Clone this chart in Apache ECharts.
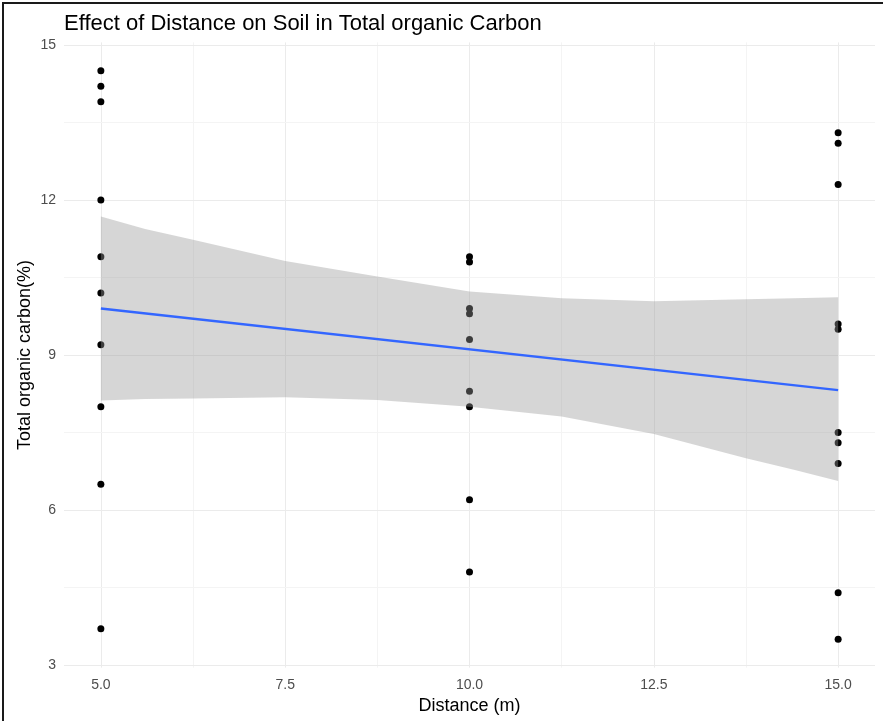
<!DOCTYPE html>
<html>
<head>
<meta charset="utf-8">
<title>Effect of Distance on Soil in Total organic Carbon</title>
<script src="https://cdn.jsdelivr.net/npm/echarts@6/dist/echarts.min.js"></script>
<style>
    html, body {margin: 0; padding: 0; background: #fff;}
    #main {position: absolute; left: 0; top: 0; width: 883px; height: 721px;}
    #frame {position: absolute; left: 2px; top: 2px; right: 0; bottom: 0;
        border-left: 2px solid #1a1a1a; border-top: 2px solid #1a1a1a; pointer-events: none;}
</style>
</head>
<body>
<div id="main"></div>
<div id="frame"></div>
<script>
    // 观测值 (Distance m -> Total organic carbon %)
    var distances = [5, 10, 15];
    var carbonAt5 = [14.5, 14.2, 13.9, 12.0, 10.9, 10.2, 9.2, 8.0, 6.5, 3.7];
    var carbonAt10 = [10.9, 10.8, 9.9, 9.8, 9.3, 8.3, 8.0, 6.2, 4.8];
    var carbonAt15 = [13.3, 13.1, 12.3, 9.6, 9.5, 7.5, 7.3, 6.9, 4.4, 3.5];

    // 回归线 + 置信带
    var fitX = [5, 15];
    var fitY = [9.90, 8.32];
    var bandX = [5, 5.6, 6.25, 7.5, 8.75, 10, 11.25, 12.5, 13.75, 14.4, 15];
    var bandLower = [8.12, 8.15, 8.16, 8.18, 8.13, 8.00, 7.81, 7.47, 7.00, 6.78, 6.56];
    var bandUpper = [11.68, 11.44, 11.23, 10.82, 10.52, 10.23, 10.10, 10.04, 10.08, 10.10, 10.12];

    // 刻度
    var xTicks = [5, 7.5, 10, 12.5, 15];
    var xMinor = [6.25, 8.75, 11.25, 13.75];
    var yTicks = [3, 6, 9, 12, 15];
    var yMinor = [4.5, 7.5, 10.5, 13.5];

    var points = [];
    [carbonAt5, carbonAt10, carbonAt15].forEach(function (vals, i) {
        vals.forEach(function (v) {
            points.push([distances[i], v]);
        });
    });

    var gridLines = [];
    xTicks.forEach(function (v) { gridLines.push({xAxis: v, lineStyle: {color: '#ebebeb', width: 1}}); });
    xMinor.forEach(function (v) { gridLines.push({xAxis: v, lineStyle: {color: '#f4f4f4', width: 1}}); });
    yTicks.forEach(function (v) { gridLines.push({yAxis: v, lineStyle: {color: '#ebebeb', width: 1}}); });
    yMinor.forEach(function (v) { gridLines.push({yAxis: v, lineStyle: {color: '#f4f4f4', width: 1}}); });

    var font = 'Liberation Sans, Arial, sans-serif';

    var chart = echarts.init(document.getElementById('main'));
    var option = {
        backgroundColor: '#fff',
        animation: false,
        title: {
            text: 'Effect of Distance on Soil in Total organic Carbon',
            left: 59,
            top: 8,
            textStyle: {
                fontFamily: font,
                fontSize: 22,
                fontWeight: 'normal',
                color: '#000'
            }
        },
        grid: {
            left: 64,
            right: 8,
            top: 42.4,
            bottom: 53.4
        },
        xAxis: {
            type: 'value',
            min: 4.5,
            max: 15.5,
            name: 'Distance (m)',
            nameLocation: 'middle',
            nameGap: 27,
            nameTextStyle: {fontFamily: font, fontSize: 18, color: '#000'},
            axisLine: {show: false},
            axisTick: {show: false},
            splitLine: {show: false},
            axisLabel: {
                customValues: xTicks,
                fontFamily: font,
                fontSize: 14,
                color: '#4d4d4d',
                margin: 11,
                formatter: function (v) { return v.toFixed(1); }
            }
        },
        yAxis: {
            type: 'value',
            min: 2.95,
            max: 15.05,
            name: 'Total organic carbon(%)',
            nameLocation: 'middle',
            nameGap: 30,
            nameMoveOverlap: false,
            nameTextStyle: {fontFamily: font, fontSize: 18, color: '#000'},
            axisLine: {show: false},
            axisTick: {show: false},
            splitLine: {show: false},
            axisLabel: {
                customValues: yTicks,
                fontFamily: font,
                fontSize: 14,
                color: '#4d4d4d',
                margin: 8
            }
        },
        series: [
            {
                // 网格线
                name: 'grid',
                type: 'scatter',
                data: [],
                z: 1,
                silent: true,
                markLine: {
                    silent: true,
                    z: 1,
                    symbol: 'none',
                    label: {show: false},
                    lineStyle: {type: 'solid'},
                    data: gridLines
                }
            },
            {
                name: 'points',
                type: 'scatter',
                z: 2,
                symbolSize: 7,
                itemStyle: {color: '#000', opacity: 1},
                data: points
            },
            {
                // 置信带
                name: 'band',
                type: 'custom',
                z: 3,
                silent: true,
                data: bandX.map(function (x, i) { return [x, bandLower[i], bandUpper[i]]; }),
                renderItem: function (params, api) {
                    if (params.dataIndex !== 0) {
                        return null;
                    }
                    var pts = [];
                    for (var i = 0; i < bandX.length; i++) {
                        pts.push(api.coord([bandX[i], bandUpper[i]]));
                    }
                    for (var j = bandX.length - 1; j >= 0; j--) {
                        pts.push(api.coord([bandX[j], bandLower[j]]));
                    }
                    return {
                        type: 'polygon',
                        shape: {points: pts},
                        style: {fill: 'rgba(153,153,153,0.4)', stroke: null}
                    };
                }
            },
            {
                name: 'fit',
                type: 'line',
                z: 4,
                symbol: 'none',
                lineStyle: {color: '#3366FF', width: 2.4},
                data: fitX.map(function (x, i) { return [x, fitY[i]]; })
            }
        ]
    };
    chart.setOption(option);
</script>
</body>
</html>
